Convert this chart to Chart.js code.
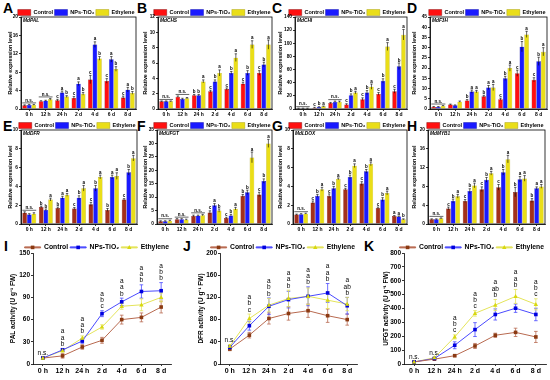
<!DOCTYPE html>
<html lang="en">
<head>
<meta charset="UTF-8">
<title>Gene expression and enzyme activity</title>
<script src="https://cdn.jsdelivr.net/npm/chart.js"></script>
<style>
  body { margin:0; width:550px; height:380px; position:relative; overflow:hidden; background:#fff; font-family:"Liberation Sans", Arial, sans-serif; }
  canvas { position:absolute; }
  .tag { position:absolute; font-weight:bold; font-size:14px; line-height:14px; color:#000; }
</style>
</head>
<body>
<div class="tag" style="left:3px;top:1px">A</div>
<div class="tag" style="left:137px;top:1px">B</div>
<div class="tag" style="left:272px;top:1px">C</div>
<div class="tag" style="left:407px;top:1px">D</div>
<div class="tag" style="left:3px;top:119px">E</div>
<div class="tag" style="left:137px;top:119px">F</div>
<div class="tag" style="left:272px;top:119px">G</div>
<div class="tag" style="left:407px;top:119px">H</div>
<div class="tag" style="left:4px;top:239px">I</div>
<div class="tag" style="left:183px;top:239px">J</div>
<div class="tag" style="left:364px;top:239px">K</div>
<script>
const times = ['0 h', '12 h', '24 h', '2 d', '4 d', '6 d', '8 d'];
const series = ['Control', 'NPs-TiO\u2082', 'Ethylene'];

// relative expression (control, NPs-TiO2, ethylene), error bars, letters
const palVals = [[0.8, 1.7, 1.9, 2.4, 6.4, 6.1, 2.5], [0.9, 1.8, 3.6, 5.5, 14.0, 10.8, 4.2], [0.9, 2.1, 2.7, 3.3, 11.0, 8.7, 3.5]];
const palErr  = [[0.1, 0.1, 0.2, 0.3, 0.9, 0.5, 0.3], [0.1, 0.1, 0.3, 0.4, 0.6, 0.6, 0.5], [0.1, 0.2, 0.2, 0.3, 0.4, 0.5, 0.3]];
const palSig  = ['n.s.', 'n.s.', 'cab', 'cab', 'cab', 'cab', 'cab'];

const chsVals = [[1.0, 1.6, 1.8, 2.3, 2.6, 3.3, 4.7], [1.0, 1.3, 1.8, 3.6, 4.7, 4.7, 5.8], [1.0, 1.4, 3.6, 4.7, 6.7, 8.4, 8.4]];
const chsErr  = [[0.05, 0.1, 0.1, 0.15, 0.15, 0.2, 0.3], [0.05, 0.1, 0.1, 0.2, 0.2, 0.3, 0.3], [0.05, 0.1, 0.2, 0.4, 0.5, 0.5, 0.6]];
const chsSig  = ['n.s.', 'n.s.', 'bba', 'cba', 'cba', 'cba', 'cba'];

const chiVals = [[1, 2, 9, 7, 15, 23, 27], [1, 3, 11, 21, 25, 43, 65], [1, 4, 11, 25, 34, 95, 113]];
const chiErr  = [[0.3, 0.5, 1, 1, 2, 2, 3], [0.3, 0.5, 1, 2, 3, 3, 5], [0.3, 0.5, 1, 2, 4, 6, 8]];
const chiSig  = ['n.s.', 'cba', 'n.s.', 'cba', 'cba', 'cba', 'cba'];

const f3hVals = [[1, 2.2, 4.2, 6.2, 4.8, 17.5, 14.3], [1, 1.8, 8.5, 10.5, 15, 30.5, 23.3], [1.5, 3.6, 8.5, 10.5, 20, 36.5, 28]];
const f3hErr  = [[0.2, 0.2, 0.4, 0.5, 0.5, 1.5, 1], [0.2, 0.2, 0.8, 1, 1, 2.5, 2], [0.2, 0.3, 0.6, 1.5, 1.5, 1.5, 2]];
const f3hSig  = ['n.s.', '', 'baa', 'baa', 'cba', 'cba', 'cba'];

const dfrVals = [[1.2, 1.8, 1.7, 1.65, 2.1, 1.5, 2.6], [1.0, 1.5, 2.8, 2.8, 3.8, 5.0, 5.5], [1.1, 2.6, 3.1, 3.8, 5.0, 5.1, 7.0]];
const dfrErr  = [[0.1, 0.1, 0.1, 0.1, 0.2, 0.15, 0.1], [0.1, 0.1, 0.15, 0.2, 0.3, 0.2, 0.3], [0.1, 0.15, 0.15, 0.3, 0.2, 0.35, 0.3]];
const dfrSig  = ['n.s.', 'bba', 'baa', 'cba', 'cba', 'baa', 'cba'];

const ufgtVals = [[1, 1.8, 3, 4.3, 2.2, 10.5, 11], [1, 1.8, 3.1, 7, 3.2, 11.8, 16], [1.2, 1.6, 3.3, 5, 5.7, 24.8, 30]];
const ufgtErr  = [[0.2, 0.2, 0.3, 0.6, 0.3, 0.5, 0.8], [0.2, 0.2, 0.2, 0.6, 0.4, 0.8, 0.8], [0.2, 0.2, 0.3, 0.6, 0.5, 2, 1.5]];
const ufgtSig  = ['n.s.', 'n.s.', 'n.s.', 'cab', 'cba', 'bba', 'cba'];

const ldoxVals = [[1.0, 2.3, 3.0, 3.7, 4.3, 1.7, 0.85], [1.05, 3.0, 3.8, 5.0, 5.6, 2.6, 0.8], [1.1, 3.7, 4.8, 6.2, 6.4, 3.3, 0.5]];
const ldoxErr  = [[0.05, 0.15, 0.2, 0.1, 0.2, 0.1, 0.05], [0.05, 0.15, 0.2, 0.2, 0.2, 0.2, 0.05], [0.05, 0.2, 0.1, 0.2, 0.2, 0.2, 0.05]];
const ldoxSig  = ['n.s.', 'cba', 'cba', 'cba', 'cba', 'cba', 'aab'];

const mybVals = [[1.0, 3.3, 4.9, 7.4, 7.8, 6.8, 5.0], [1.0, 4.9, 7.0, 9.4, 11.0, 9.5, 7.6], [1.2, 5.9, 8.2, 10.8, 13.8, 9.7, 8.0]];
const mybErr  = [[0.1, 0.3, 0.3, 0.5, 0.6, 1.0, 0.4], [0.1, 0.4, 0.5, 0.5, 0.6, 0.6, 0.3], [0.1, 0.4, 0.5, 0.4, 0.8, 0.6, 0.4]];
const mybSig  = ['n.s.', 'cba', 'cba', 'cba', 'cba', 'baa', 'baa'];

// enzyme activity (U g-1 FW)
const palAct    = [[8, 11, 23, 32, 60, 63, 77], [8, 19, 31, 68, 84, 98, 99], [8, 18, 35, 50, 78, 80, 90]];
const palActErr = [[1, 3, 3, 4, 6, 6, 8], [1, 2, 3, 4, 5, 9, 11], [1, 2, 3, 3, 4, 8, 6]];
const palActSig = [['n.s.'], ['a', 'a', 'b'], ['a', 'a', 'b'], ['a', 'b', 'c'], ['a', 'a', 'b'], ['a', 'a', 'b'], ['a', 'b', 'b']];

const dfrAct    = [[27, 52, 82, 91, 96, 87, 80], [30, 69, 104, 116, 122, 128, 105], [32, 82, 106, 118, 122, 115, 108]];
const dfrActErr = [[3, 5, 10, 12, 12, 12, 10], [3, 8, 15, 15, 17, 17, 15], [3, 8, 12, 15, 15, 15, 12]];
const dfrActSig = [['n.s.'], ['a', 'b', 'c'], ['a', 'b', 'b'], ['a', 'a', 'b'], ['a', 'a', 'b'], ['a', 'a', 'b'], ['a', 'ab', 'b']];

const ufgtAct    = [[15, 35, 60, 130, 207, 228, 195], [15, 40, 135, 248, 357, 402, 357], [15, 45, 195, 365, 425, 487, 430]];
const ufgtActErr = [[3, 5, 8, 18, 15, 30, 40], [3, 5, 25, 50, 40, 30, 45], [3, 5, 15, 20, 40, 50, 40]];
const ufgtActSig = [['n.s.'], ['n.s.'], ['a', 'b', 'c'], ['a', 'b', 'c'], ['a', 'ab', 'b'], ['a', 'a', 'b'], ['a', 'b', 'c']];

const FONT = '"Liberation Sans", Arial, sans-serif';
Chart.defaults.font.family = FONT;
Chart.defaults.color = '#000';

function addCanvas(b) {
  const c = document.createElement('canvas');
  c.width = b.w; c.height = b.h;
  c.style.left = b.x + 'px'; c.style.top = b.y + 'px';
  c.style.width = b.w + 'px'; c.style.height = b.h + 'px';
  document.body.appendChild(c);
  return c;
}

function scalesFor(b, max, step, title, tickSize, titleSize, xSize) {
  return {
    x: {
      offset: true,
      ticks: { font: { size: xSize, weight: 'bold' }, padding: 1, maxRotation: 0, autoSkip: false },
      grid: { display: true, drawOnChartArea: false, offset: false, tickLength: 2, color: '#000', lineWidth: 0.8 },
      border: { color: '#000', width: 0.8 },
      afterFit(s) { s.height = b.xh; }
    },
    y: {
      min: 0, max: max,
      ticks: { stepSize: step, font: { size: tickSize, weight: 'bold' }, padding: 1 },
      grid: { display: true, drawOnChartArea: false, tickLength: 2, color: '#000', lineWidth: 0.8 },
      border: { color: '#000', width: 0.8 },
      title: { display: true, text: title, font: { size: titleSize, weight: 'bold' }, padding: 0 },
      afterFit(s) { s.width = b.yw; }
    }
  };
}

function barChart(b, gene, vals, errs, sig, max, step, ctrlColor) {
  const colors = [ctrlColor, '#1a1aff', '#eade18'];
  const edges = ['#700000', '#0000a0', '#9a9000'];
  const extras = {
    id: 'barExtras',
    afterDatasetsDraw(chart) {
      const ctx = chart.ctx, ys = chart.scales.y, a = chart.chartArea;
      const metas = [0, 1, 2].map(i => chart.getDatasetMeta(i));
      ctx.save();
      ctx.strokeStyle = '#000';
      ctx.lineWidth = 0.6;
      metas.forEach((m, i) => m.data.forEach((el, j) => {
        const top = ys.getPixelForValue(vals[i][j] + errs[i][j]);
        const bot = ys.getPixelForValue(vals[i][j] - errs[i][j]);
        ctx.beginPath();
        ctx.moveTo(el.x, top); ctx.lineTo(el.x, bot);
        ctx.moveTo(el.x - 1.2, top); ctx.lineTo(el.x + 1.2, top);
        ctx.stroke();
      }));
      ctx.font = 'bold 4.5px ' + FONT;
      ctx.fillStyle = '#000';
      ctx.textAlign = 'center';
      ctx.textBaseline = 'bottom';
      sig.forEach((s, j) => {
        if (!s) return;
        const els = metas.map(m => m.data[j]);
        const tops = vals.map((v, i) => ys.getPixelForValue(v[j] + errs[i][j]));
        if (s === 'n.s.') {
          const y = Math.min(...tops) - 1.5;
          ctx.beginPath();
          ctx.moveTo(els[0].x - els[0].width / 2, y);
          ctx.lineTo(els[2].x + els[2].width / 2, y);
          ctx.stroke();
          ctx.fillText('n.s.', els[1].x, y - 0.3);
        } else {
          [...s].forEach((ch, i) => ctx.fillText(ch, els[i].x, tops[i] - 0.4));
        }
      });
      ctx.font = 'italic bold 4.8px ' + FONT;
      ctx.textAlign = 'left';
      ctx.textBaseline = 'top';
      ctx.fillText(gene, a.left + 2, a.top + 1.5);
      ctx.lineWidth = 0.8;
      ctx.strokeRect(a.left, a.top, a.right - a.left, a.bottom - a.top);
      ctx.restore();
    }
  };
  new Chart(addCanvas(b), {
    type: 'bar',
    data: {
      labels: times,
      datasets: series.map((name, i) => ({
        label: name, data: vals[i],
        backgroundColor: colors[i], borderColor: edges[i], borderWidth: 0.4,
        categoryPercentage: 0.84, barPercentage: 1.0
      }))
    },
    options: {
      responsive: false, animation: false, devicePixelRatio: 1,
      layout: { padding: { left: 0, right: b.pr, top: b.pt, bottom: 0 } },
      plugins: {
        tooltip: { enabled: false },
        legend: {
          position: 'top', align: 'end', maxHeight: b.lh,
          labels: {
            boxWidth: 13, boxHeight: 6, padding: 1.5,
            font: { size: 5.5, weight: 'bold' },
            generateLabels(chart) {
              const items = Chart.defaults.plugins.legend.labels.generateLabels(chart);
              items[0].fillStyle = '#ff1010';
              return items;
            }
          }
        }
      },
      scales: scalesFor(b, max, step, 'Relative expression level', 4.8, 5.3, 5)
    },
    plugins: [extras]
  });
}

function lineChart(b, title, vals, errs, sig, max, step) {
  const lines = ['#b86a50', '#4a4aff', '#e4e45a'];
  const marks = ['#8b3a12', '#0000e0', '#d8d810'];
  const shapes = ['rect', 'rect', 'triangle'];
  const drawMark = (ctx, shape, x, y, color) => {
    ctx.fillStyle = color;
    ctx.beginPath();
    if (shape === 'rect') ctx.rect(x - 1.8, y - 1.8, 3.6, 3.6);
    else { ctx.moveTo(x, y - 2.4); ctx.lineTo(x + 2.2, y + 1.6); ctx.lineTo(x - 2.2, y + 1.6); ctx.closePath(); }
    ctx.fill();
  };
  const extras = {
    id: 'lineExtras',
    afterDatasetsDraw(chart) {
      const ctx = chart.ctx, ys = chart.scales.y;
      const metas = [0, 1, 2].map(i => chart.getDatasetMeta(i));
      ctx.save();
      ctx.lineWidth = 0.8;
      metas.forEach((m, i) => m.data.forEach((el, j) => {
        const top = ys.getPixelForValue(vals[i][j] + errs[i][j]);
        const bot = ys.getPixelForValue(vals[i][j] - errs[i][j]);
        ctx.strokeStyle = lines[i];
        ctx.beginPath();
        ctx.moveTo(el.x, top); ctx.lineTo(el.x, bot);
        ctx.moveTo(el.x - 1.8, top); ctx.lineTo(el.x + 1.8, top);
        ctx.moveTo(el.x - 1.8, bot); ctx.lineTo(el.x + 1.8, bot);
        ctx.stroke();
      }));
      metas.forEach((m, i) => m.data.forEach(el => drawMark(ctx, shapes[i], el.x, el.y, marks[i])));
      ctx.font = '6.5px ' + FONT;
      ctx.fillStyle = '#000';
      ctx.textAlign = 'center';
      ctx.textBaseline = 'bottom';
      sig.forEach((s, j) => {
        const x = metas[0].data[j].x;
        let y = Math.min(...vals.map((v, i) => ys.getPixelForValue(v[j] + errs[i][j]))) - 1;
        for (let k = s.length - 1; k >= 0; k--) {
          ctx.fillText(s[k], x, y);
          y -= 6.3;
        }
      });
      ctx.restore();
    },
    afterDraw(chart) {
      const ctx = chart.ctx;
      const bw = chart.options.plugins.legend.labels.boxWidth;
      ctx.save();
      chart.legend.legendHitBoxes.forEach((hb, i) => {
        drawMark(ctx, shapes[i], hb.left + bw / 2, hb.top + hb.height / 2, marks[i]);
      });
      ctx.restore();
    }
  };
  new Chart(addCanvas(b), {
    type: 'line',
    data: {
      labels: times,
      datasets: series.map((name, i) => ({
        label: name, data: vals[i],
        borderColor: lines[i], backgroundColor: lines[i], borderWidth: 1,
        pointRadius: 0, tension: 0
      }))
    },
    options: {
      responsive: false, animation: false, devicePixelRatio: 1,
      layout: { padding: { left: 0, right: b.pr, top: b.pt, bottom: 0 } },
      plugins: {
        tooltip: { enabled: false },
        legend: {
          position: 'top', align: 'end', maxHeight: b.lh,
          labels: { boxWidth: 16, boxHeight: 1, padding: 2, font: { size: 6.8, weight: 'bold' } }
        }
      },
      scales: scalesFor(b, max, step, title, 6.5, 6.5, 7)
    },
    plugins: [extras]
  });
}

const red = '#ff1010', maroon = '#a3301a';
barChart({ x: 7,   y: 0, w: 131, h: 118, yw: 14, pr: 2, pt: 8, lh: 9, xh: 9 }, 'MdPAL', palVals, palErr, palSig, 20, 4, red);
barChart({ x: 142, y: 0, w: 132, h: 118, yw: 16, pr: 2, pt: 8, lh: 9, xh: 9 }, 'MdCHS', chsVals, chsErr, chsSig, 12, 2, red);
barChart({ x: 277, y: 0, w: 132, h: 118, yw: 18, pr: 2, pt: 8, lh: 9, xh: 9 }, 'MdCHI', chiVals, chiErr, chiSig, 140, 20, red);
barChart({ x: 411, y: 0, w: 138, h: 118, yw: 19, pr: 2, pt: 8, lh: 9, xh: 9 }, 'MdF3H', f3hVals, f3hErr, f3hSig, 45, 5, red);

barChart({ x: 7,   y: 118, w: 132, h: 115, yw: 14, pr: 2, pt: 3, lh: 9, xh: 9 }, 'MdDFR', dfrVals, dfrErr, dfrSig, 10, 2, maroon);
barChart({ x: 142, y: 118, w: 132, h: 115, yw: 15, pr: 2, pt: 3, lh: 9, xh: 9 }, 'MdUFGT', ufgtVals, ufgtErr, ufgtSig, 35, 5, maroon);
barChart({ x: 277, y: 118, w: 132, h: 115, yw: 16, pr: 2, pt: 3, lh: 9, xh: 9 }, 'MdLDOX', ldoxVals, ldoxErr, ldoxSig, 10, 2, maroon);
barChart({ x: 411, y: 118, w: 136, h: 115, yw: 17, pr: 2, pt: 3, lh: 9, xh: 9 }, 'MdMYB1', mybVals, mybErr, mybSig, 20, 4, maroon);

lineChart({ x: 9,   y: 238, w: 164, h: 140, yw: 24, pr: 2, pt: 4, lh: 11, xh: 14 }, 'PAL activity (U g\u207B\u00B9 FW)', palAct, palActErr, palActSig, 150, 30);
lineChart({ x: 197, y: 238, w: 162, h: 140, yw: 23, pr: 2, pt: 4, lh: 11, xh: 14 }, 'DFR activity (U g\u207B\u00B9 FW)', dfrAct, dfrActErr, dfrActSig, 200, 40);
lineChart({ x: 382, y: 238, w: 166, h: 140, yw: 22, pr: 2, pt: 4, lh: 11, xh: 14 }, 'UFGT activity (U g\u207B\u00B9 FW)', ufgtAct, ufgtActErr, ufgtActSig, 800, 100);
</script>
</body>
</html>
